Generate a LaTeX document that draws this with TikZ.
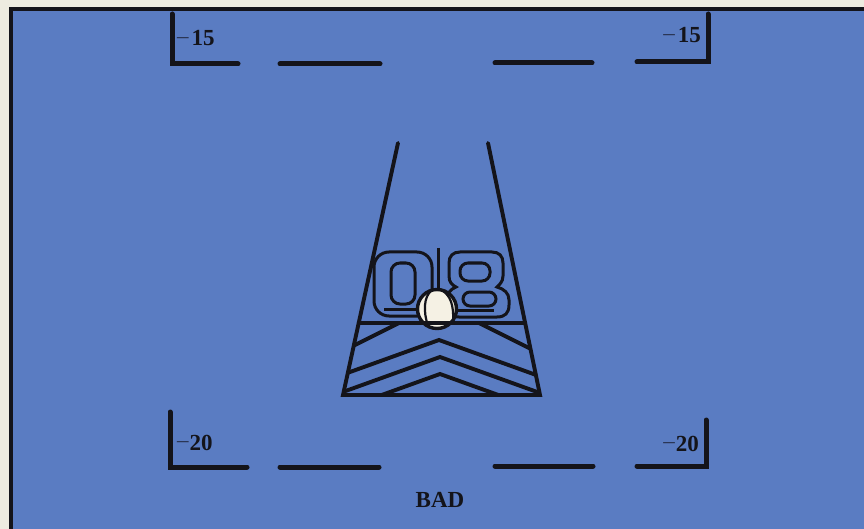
\documentclass[tikz,border=0pt]{standalone}
\usepackage{fontspec}
\setmainfont{Liberation Serif}
\usetikzlibrary{calc}
\definecolor{paper}{RGB}{237,235,224}
\definecolor{bluebg}{RGB}{90,124,194}
\definecolor{inkc}{RGB}{20,20,26}
\definecolor{ballc}{RGB}{245,241,228}
\definecolor{dashc}{RGB}{40,50,80}
\begin{document}
\begin{tikzpicture}[x=1pt,y=-1pt,
  ink/.style={draw=inkc, line width=3.9pt, line cap=round},
  thinink/.style={draw=inkc, line width=3pt},
  bracket/.style={draw=inkc, line width=5pt, line cap=round, line join=miter},
  tag/.style={inner sep=0pt, font=\fontsize{23}{23}\selectfont, text=inkc}]
\useasboundingbox (0,0) rectangle (864,529);
\fill[paper] (0,0) rectangle (864,529);
\fill[bluebg] (11,9.5) rectangle (864,529);
\draw[inkc, line width=4pt] (864,9.5) -- (11,9.5) -- (11,529);

% corner brackets and dashes
\draw[bracket] (172,14) -- (172,64) -- (238,64);
\draw[bracket] (280,64) -- (380,64);
\draw[bracket] (495,63) -- (592,63);
\draw[bracket] (637,62) -- (708,62) -- (708,14);
\draw[bracket] (170,412) -- (170,467) -- (247,467);
\draw[bracket] (280,467) -- (379,467);
\draw[bracket] (495,466) -- (593,466);
\draw[bracket] (637,466) -- (706,466) -- (706,420);

% labels
\node[tag, anchor=base west] (ltl) at (177,46) {\raisebox{2.5pt}{\color{dashc}–}\kern3pt\textbf{15}};
\node[tag, anchor=base east] (ltr) at (701,43) {\raisebox{2.5pt}{\color{dashc}–}\kern3pt\textbf{15}};
\node[tag, anchor=base west] (lbl) at (177,450) {\raisebox{2.5pt}{\color{dashc}–}\kern1pt\textbf{20}};
\node[tag, anchor=base east] (lbr) at (699,451) {\raisebox{2.5pt}{\color{dashc}–}\kern1pt\textbf{20}};
\node[tag, anchor=base] (bad) at (440,507) {\textbf{BAD}};

% trapezoid
\coordinate (tl) at (398,143);
\coordinate (tr) at (488,143);
\coordinate (bl) at (343,395);
\coordinate (br) at (540,395);
\coordinate (hl) at ($(tl)!0.7143!(bl)$);
\coordinate (hr) at ($(tr)!0.7143!(br)$);

% chevrons
\begin{scope}
  \clip (hl) -- (hr) -- (br) -- (bl) -- cycle;
  \draw[ink] (330,357.5) -- (439,303) -- (550,358.5);
  \draw[ink] (330,379.2) -- (439,340) -- (550,380);
  \draw[ink] (330,396.6) -- (440,357) -- (550,396.6);
  \draw[ink] (330,413.6) -- (440,374) -- (550,413.6);
\end{scope}

% digits 0 8 in outline
\draw[thinink, rounded corners=15pt] (374,252) rectangle (432,316);
\draw[thinink, rounded corners=9pt] (391,263) rectangle (415,304);
\draw[thinink] (384,309) -- (425,309);
\draw[thinink] (460,252) -- (492,252) .. controls (499,252) and (503,256) .. (503,263) -- (503,276)
  .. controls (503,282) and (499,285) .. (497,287) .. controls (504,289) and (509,293) .. (509,300)
  -- (509,305) .. controls (509,313) and (505,317) .. (497,317) -- (459,317)
  .. controls (451,317) and (447,313) .. (447,305) -- (447,300)
  .. controls (447,293) and (451,289) .. (456,287) .. controls (452,285) and (449,282) .. (449,276)
  -- (449,263) .. controls (449,256) and (453,252) .. (460,252) -- cycle;
\draw[thinink, rounded corners=8pt] (460,263) rectangle (490,281);
\draw[thinink, rounded corners=7pt] (463,292) rectangle (496,306);
\draw[thinink] (452,310) -- (494,310);
\draw[thinink] (438,248) -- (438,292);

% ball
\draw[inkc, line width=3.4pt, fill=ballc] (437,309) circle[radius=19.5];
\draw[inkc, line width=2.2pt] (431,291) .. controls (424,297) and (423,311) .. (428,326);
\draw[inkc, line width=2.2pt] (443,291) .. controls (450,296) and (454,304) .. (453,322);

% trapezoid outline
\draw[ink] (tl) -- (bl) -- (br) -- (tr);
\draw[ink] (hl) -- (hr);
\end{tikzpicture}
\end{document}
